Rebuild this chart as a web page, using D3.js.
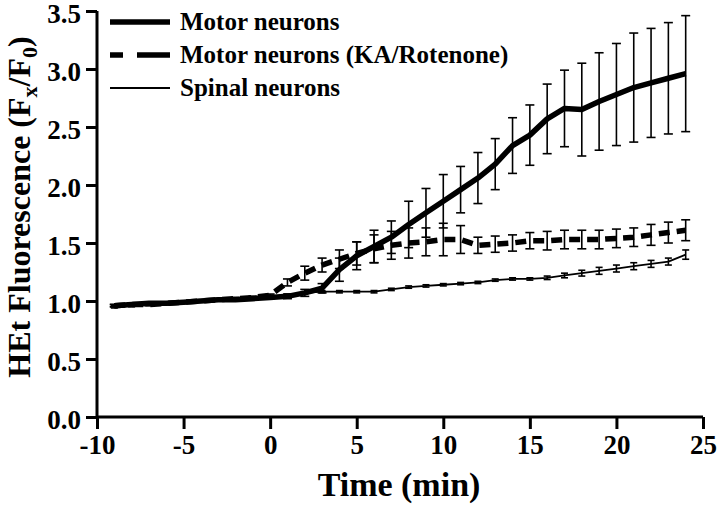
<!DOCTYPE html>
<meta charset="utf-8">
<style>

body {
  margin: 0;
  background: #fff;
}

text {
  font-family: "Liberation Serif", "Times New Roman", serif;
  font-weight: bold;
  fill: #000;
}

.axis path,
.axis line {
  stroke: #000;
  stroke-width: 3px;
}

.axis text {
  font-size: 27px;
}

</style>
<body>
<script src="https://cdn.jsdelivr.net/npm/d3@7"></script>
<script>

// time points, one a minute
var time = d3.range(-9, 25);

var motor = [0.96, 0.97, 0.98, 0.98, 0.99, 1.00, 1.01, 1.01, 1.02, 1.03,
             1.04, 1.07, 1.11, 1.27, 1.39, 1.47, 1.55, 1.66, 1.76, 1.86,
             1.96, 2.06, 2.18, 2.34, 2.43, 2.57, 2.66, 2.65, 2.72, 2.78,
             2.84, 2.88, 2.92, 2.96];
var motorErr = [0.01, 0.01, 0.01, 0.01, 0.01, 0.01, 0.01, 0.01, 0.01, 0.01,
                0.02, 0.03, 0.04, 0.10, 0.12, 0.14, 0.14, 0.20, 0.21, 0.23,
                0.20, 0.22, 0.22, 0.24, 0.26, 0.30, 0.33, 0.40, 0.42, 0.44,
                0.47, 0.47, 0.48, 0.50];

var motorKA = [0.96, 0.97, 0.97, 0.98, 0.99, 1.00, 1.01, 1.02, 1.03, 1.05,
               1.16, 1.24, 1.31, 1.36, 1.41, 1.45, 1.48, 1.50, 1.51, 1.53,
               1.53, 1.48, 1.49, 1.50, 1.52, 1.52, 1.53, 1.53, 1.53, 1.54,
               1.55, 1.57, 1.59, 1.61];
var motorKAErr = [0.01, 0.01, 0.01, 0.01, 0.01, 0.01, 0.01, 0.01, 0.01, 0.01,
                  0.03, 0.06, 0.06, 0.08, 0.10, 0.12, 0.12, 0.13, 0.12, 0.14,
                  0.12, 0.07, 0.07, 0.07, 0.07, 0.08, 0.08, 0.08, 0.08, 0.08,
                  0.08, 0.09, 0.09, 0.09];

var spinal = [0.95, 0.96, 0.97, 0.98, 0.99, 1.00, 1.01, 1.02, 1.03, 1.04,
              1.05, 1.07, 1.08, 1.08, 1.08, 1.08, 1.10, 1.12, 1.13, 1.14,
              1.15, 1.16, 1.18, 1.19, 1.19, 1.20, 1.22, 1.24, 1.26, 1.28,
              1.30, 1.32, 1.34, 1.40];
var spinalErr = [0.01, 0.01, 0.01, 0.01, 0.01, 0.01, 0.01, 0.01, 0.01, 0.01,
                 0.01, 0.01, 0.01, 0.01, 0.01, 0.01, 0.01, 0.01, 0.01, 0.01,
                 0.01, 0.01, 0.01, 0.01, 0.01, 0.015, 0.02, 0.025, 0.03, 0.03,
                 0.03, 0.03, 0.03, 0.04];

var xTicks = [-10, -5, 0, 5, 10, 15, 20, 25];
var yTicks = [0.0, 0.5, 1.0, 1.5, 2.0, 2.5, 3.0, 3.5];

var seriesNames = ["Motor neurons", "Motor neurons (KA/Rotenone)", "Spinal neurons"];

var width = 720,
    height = 506;

var svg = d3.select("body").append("svg")
    .attr("width", width)
    .attr("height", height);

var x = d3.scaleLinear().domain([-10, 25]).range([97, 703]);
var y = d3.scaleLinear().domain([0, 3.5]).range([417, 11]);

// axes (plain hyphen for negatives, like the original)
svg.append("g")
    .attr("class", "axis")
    .attr("transform", "translate(0,417)")
    .call(d3.axisBottom(x).tickValues(xTicks).tickSize(12).tickSizeOuter(0).tickPadding(6)
      .tickFormat(function(d) { return String(d); }))
    .call(function(g) { g.select(".domain").attr("d", "M97,0H703"); });

svg.append("g")
    .attr("class", "axis")
    .attr("transform", "translate(97,0)")
    .call(d3.axisLeft(y).tickValues(yTicks).tickSize(11).tickSizeOuter(0).tickPadding(5)
      .tickFormat(d3.format(".1f")))
    .call(function(g) { g.select(".domain").attr("d", "M0,417V11"); })
    .call(function(g) { g.selectAll("text").attr("dy", "0.42em"); });

svg.selectAll(".axis text").attr("font-family", null);

// series
var series = [
  {name: seriesNames[0], values: motor, err: motorErr, width: 5.5, dash: null, cap: 4.5},
  {name: seriesNames[1], values: motorKA, err: motorKAErr, width: 5.5, dash: "11,7", cap: 4.5},
  {name: seriesNames[2], values: spinal, err: spinalErr, width: 1.8, dash: null, cap: 3.5}
];

var line = d3.line()
    .x(function(d) { return x(d.t); })
    .y(function(d) { return y(d.v); });

series.forEach(function(s) {
  var pts = time.map(function(t, i) { return {t: t, v: s.values[i], e: s.err[i]}; });

  var bars = svg.append("g")
      .attr("stroke", "#000")
      .attr("stroke-width", 1.6)
      .selectAll("g")
      .data(pts)
    .enter().append("g");

  bars.append("line")
      .attr("x1", function(d) { return x(d.t); })
      .attr("x2", function(d) { return x(d.t); })
      .attr("y1", function(d) { return y(d.v + d.e); })
      .attr("y2", function(d) { return y(d.v - d.e); });

  bars.selectAll(".cap")
      .data(function(d) { return [d.v + d.e, d.v - d.e].map(function(v) { return {t: d.t, v: v}; }); })
    .enter().append("line")
      .attr("class", "cap")
      .attr("x1", function(d) { return x(d.t) - s.cap; })
      .attr("x2", function(d) { return x(d.t) + s.cap; })
      .attr("y1", function(d) { return y(d.v); })
      .attr("y2", function(d) { return y(d.v); });

  svg.append("path")
      .datum(pts)
      .attr("fill", "none")
      .attr("stroke", "#000")
      .attr("stroke-width", s.width)
      .attr("stroke-linejoin", "round")
      .attr("stroke-dasharray", s.dash)
      .attr("d", line);
});

// legend
var legend = svg.append("g")
    .selectAll("g")
    .data(series)
  .enter().append("g")
    .attr("transform", function(d, i) { return "translate(0," + [22, 55, 88][i] + ")"; });

legend.append("line")
    .attr("x1", 110)
    .attr("x2", 170)
    .attr("stroke", "#000")
    .attr("stroke-width", function(d) { return d.width; })
    .attr("stroke-dasharray", function(d) { return d.dash ? "13,14,33" : null; });

legend.append("text")
    .attr("x", 180)
    .attr("y", 8)
    .style("font-size", "25px")
    .text(function(d) { return d.name; });

// axis titles
svg.append("text")
    .attr("x", 399)
    .attr("y", 496)
    .attr("text-anchor", "middle")
    .style("font-size", "34px")
    .text("Time (min)");

var ylab = svg.append("text")
    .attr("transform", "translate(30,207) rotate(-90)")
    .attr("text-anchor", "middle")
    .style("font-size", "32px");

ylab.append("tspan").text("HEt Fluorescence (F");
ylab.append("tspan").attr("dy", 7).style("font-size", "22px").text("x");
ylab.append("tspan").attr("dy", -7).text("/F");
ylab.append("tspan").attr("dy", 7).style("font-size", "22px").text("0");
ylab.append("tspan").attr("dy", -7).text(")");

</script>
